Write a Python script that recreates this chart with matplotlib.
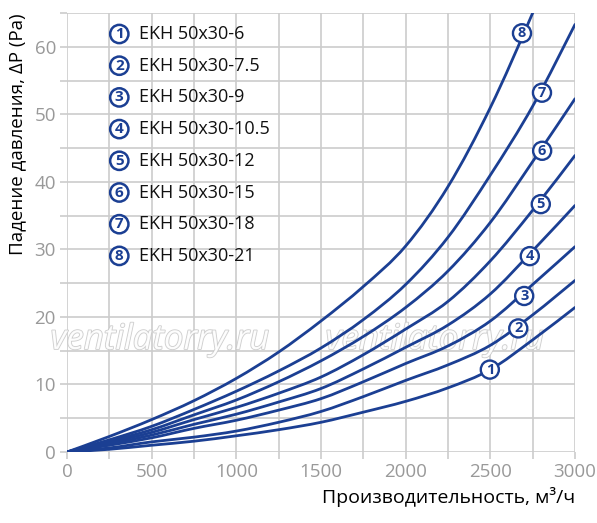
import matplotlib
matplotlib.use("Agg")
import matplotlib.pyplot as plt
import matplotlib.patheffects as pe
from matplotlib.ticker import MultipleLocator
from matplotlib.path import Path
from matplotlib.patches import PathPatch

flow = [0, 250, 500, 750, 1000, 1250, 1500, 1750, 2000, 2250, 2500, 2750, 3000]
p1 = [0, 0.4, 1.0, 1.6, 2.4, 3.3, 4.4, 5.9, 7.5, 9.5, 12.2, 16.6, 21.4]
p2 = [0, 0.6, 1.5, 2.2, 3.1, 4.4, 6.0, 8.2, 10.6, 12.9, 15.8, 20.3, 25.4]
p3 = [0, 1.0, 2.1, 3.5, 4.7, 6.2, 7.9, 10.4, 13.1, 15.7, 19.4, 24.8, 30.4]
p4 = [0, 1.2, 2.5, 4.1, 5.6, 7.4, 9.4, 12.3, 15.5, 18.8, 23.4, 29.8, 36.5]
p5 = [0, 1.4, 2.9, 4.8, 6.6, 8.7, 11.1, 14.4, 18.2, 22.3, 28.3, 35.8, 43.9]
p6 = [0, 1.6, 3.3, 5.5, 7.7, 10.4, 13.5, 17.1, 21.4, 26.8, 34.0, 43.0, 52.3]
p7 = [0, 1.8, 3.8, 6.3, 9.0, 12.0, 15.4, 19.6, 24.8, 31.8, 41.0, 51.2, 63.3]
p8 = [0, 2.3, 4.8, 7.6, 10.9, 14.8, 19.4, 24.5, 30.5, 39.3, 51.0, 65.0, 80.0]
series = [p1, p2, p3, p4, p5, p6, p7, p8]
names = ["EKH 50x30-6", "EKH 50x30-7.5", "EKH 50x30-9", "EKH 50x30-10.5",
         "EKH 50x30-12", "EKH 50x30-15", "EKH 50x30-18", "EKH 50x30-21"]
label_x = [2497, 2665, 2700, 2733, 2798, 2806, 2805, 2687]
label_y = [12.2, 18.3, 23.1, 29.0, 36.7, 44.6, 53.2, 62.0]

blue = "#1b3f93"
grid = "#cccccc"
tickc = "#999999"

plt.rcParams['font.family'] = ['Open Sans', 'DejaVu Sans']


def smooth_path(xs, ys):
    pts = list(zip(xs, ys))
    n = len(pts)
    verts = [pts[0]]
    codes = [Path.MOVETO]
    for i in range(n - 1):
        p0 = pts[i - 1] if i > 0 else pts[i]
        p1_ = pts[i]
        p2_ = pts[i + 1]
        p3_ = pts[i + 2] if i + 2 < n else pts[i + 1]
        c1 = (p1_[0] + (p2_[0] - p0[0]) / 6, p1_[1] + (p2_[1] - p0[1]) / 6)
        c2 = (p2_[0] - (p3_[0] - p1_[0]) / 6, p2_[1] - (p3_[1] - p1_[1]) / 6)
        verts += [c1, c2, p2_]
        codes += [Path.CURVE4] * 3
    return Path(verts, codes)


fig = plt.figure(figsize=(5.97, 5.23), dpi=100)
ax = fig.add_axes([67/597, 1-452/523, (575-67)/597, (452-13)/523])

# watermark (under the curves)
for wx in [160, 435]:
    ax.text(wx/597, 1-340/523, "ventilatorry.ru", ha='center', va='center',
            transform=fig.transFigure, clip_on=False,
            fontsize=25, style='italic', color='white', alpha=0.9, zorder=2,
            path_effects=[pe.withStroke(linewidth=1.2, foreground='#c8c8c8')])

for s in series:
    ax.add_patch(PathPatch(smooth_path(flow, s), fc='none', ec=blue, lw=2.0,
                           capstyle='round', zorder=3))

for i, (lx, ly) in enumerate(zip(label_x, label_y)):
    ax.text(lx, ly, str(i+1), ha='center', va='center', fontsize=10.5, color=blue,
            fontweight='bold', zorder=5,
            bbox=dict(boxstyle='circle,pad=0.14', fc='white', ec=blue, lw=1.7))

ax.set_xlim(0, 3000)
ax.set_ylim(0, 65)
ax.xaxis.set_major_locator(MultipleLocator(500))
ax.xaxis.set_minor_locator(MultipleLocator(250))
ax.yaxis.set_major_locator(MultipleLocator(10))
ax.yaxis.set_minor_locator(MultipleLocator(5))
ax.grid(True, which='both', color=grid, lw=1.2, zorder=0)
for sp in ax.spines.values():
    sp.set_visible(False)
ax.tick_params(which='both', length=5, width=1.2, color=grid, labelcolor=tickc,
               labelsize=13.5, pad=3)
ax.set_axisbelow(True)

ax.set_xlabel("Производительность, м³/ч", fontsize=14, color='black', loc='right',
              labelpad=4)
ax.set_ylabel("Падение давления, ΔP (Pa)", fontsize=13.5, color='black', loc='top',
              labelpad=6)

# legend
leg_y = [34, 65.7, 97.4, 129.1, 160.8, 192.5, 224.2, 255.9]
for i, (nm, yy) in enumerate(zip(names, leg_y)):
    fy = 1 - yy/523
    fig.text(119.3/597, fy, str(i+1), ha='center', va='center', fontsize=11, color=blue,
             fontweight='bold', zorder=6,
             bbox=dict(boxstyle='circle,pad=0.14', fc='white', ec=blue, lw=1.8))
    fig.text(139/597, fy, nm, ha='left', va='center', fontsize=13, color='#111111')

fig.savefig("out.png", dpi=100)
